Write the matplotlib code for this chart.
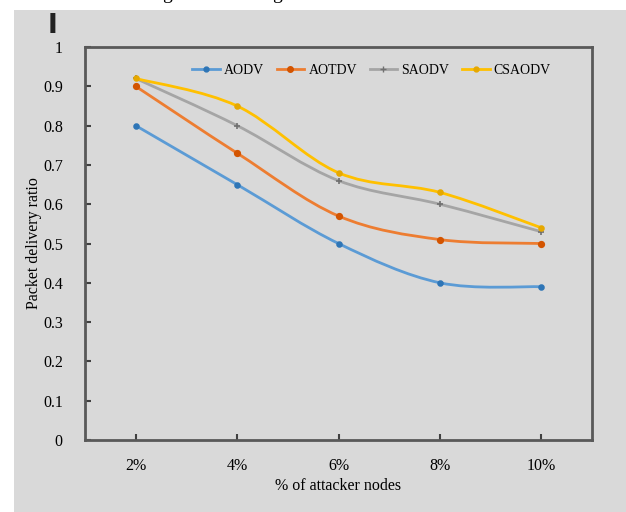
import matplotlib
matplotlib.use("Agg")
import matplotlib.pyplot as plt
from matplotlib.path import Path
from matplotlib.patches import PathPatch, Rectangle

plt.rcParams['font.family'] = ['Liberation Serif', 'DejaVu Serif']

# data
x_labels = ['2%', '4%', '6%', '8%', '10%']
aodv = [0.80, 0.65, 0.50, 0.40, 0.39]
aotdv = [0.90, 0.73, 0.57, 0.51, 0.50]
saodv = [0.92, 0.80, 0.66, 0.60, 0.53]
csaodv = [0.92, 0.85, 0.68, 0.63, 0.54]
y_ticks = [0, 0.1, 0.2, 0.3, 0.4, 0.5, 0.6, 0.7, 0.8, 0.9, 1]

bg = '#d9d9d9'


def smooth_path(xs, ys):
    # Excel-like smoothed line: Catmull-Rom turned into cubic Bezier segments
    pts = list(zip(xs, ys))
    verts = [pts[0]]
    codes = [Path.MOVETO]
    n = len(pts)
    for i in range(n - 1):
        p0 = pts[i - 1] if i > 0 else pts[i]
        p1 = pts[i]
        p2 = pts[i + 1]
        p3 = pts[i + 2] if i + 2 < n else pts[i + 1]
        c1 = (p1[0] + (p2[0] - p0[0]) / 6, p1[1] + (p2[1] - p0[1]) / 6)
        c2 = (p2[0] - (p3[0] - p1[0]) / 6, p2[1] - (p3[1] - p1[1]) / 6)
        verts += [c1, c2, p2]
        codes += [Path.CURVE4] * 3
    return Path(verts, codes)


fig = plt.figure(figsize=(6.26, 5.12), dpi=100)
fig.patches.append(Rectangle((14 / 626, 0), 1, 1 - 10 / 512, transform=fig.transFigure,
                             facecolor=bg, edgecolor='none', zorder=-10))
ax = fig.add_axes([85 / 626, 1 - 440 / 512, 507 / 626, 393 / 512])
ax.set_facecolor(bg)

xs = list(range(len(x_labels)))
series = [
    ('AODV', aodv, '#5b9bd5', '#2e75b6', 'o', 3.5),
    ('AOTDV', aotdv, '#ed7d31', '#d35400', 'o', 4),
    ('SAODV', saodv, '#a5a5a5', '#707070', '+', 4),
    ('CSAODV', csaodv, '#ffc000', '#e6a800', 'o', 3.5),
]
for name, vals, col, mcol, mk, ms in series:
    ax.add_patch(PathPatch(smooth_path(xs, vals), facecolor='none', edgecolor=col, lw=2))
    ax.plot(xs, vals, linestyle='none', marker=mk, markersize=ms, color=mcol, mew=1.2)
    ax.plot([], [], color=col, lw=2, marker=mk, markersize=ms, mfc=mcol, mec=mcol, label=name)

ax.set_xlim(-0.5, 4.5)
ax.set_ylim(0, 1)
ax.set_xticks(xs)
ax.set_xticklabels(x_labels, fontsize=11.5)
ax.set_yticks(y_ticks)
ax.set_yticklabels([f'{t:g}' for t in y_ticks], fontsize=11.5)
ax.tick_params(direction='in', length=4, width=1.5, color='#404040')
ax.tick_params(axis='y', pad=16)
ax.tick_params(axis='x', pad=13)
for s in ax.spines.values():
    s.set_color('#595959')
    s.set_linewidth(2)

ax.set_xlabel('% of attacker nodes', fontsize=11.5, labelpad=3)
ax.set_ylabel('Packet delivery ratio', fontsize=11.5, labelpad=1)

ax.legend(loc='center', bbox_to_anchor=(0.565, 0.94), ncol=4, frameon=False,
          fontsize=10, handlelength=2.0, handletextpad=0.3, columnspacing=0.9)

# cut-off caption above and the marker bar at top left
fig.text(167 / 626, 1 + 1 / 512, 'g', fontsize=14, va='baseline', ha='center')
fig.text(277 / 626, 1 + 1 / 512, 'g', fontsize=14, va='baseline', ha='center')
fig.text(53 / 626, 1 - 26 / 512, 'I', fontsize=19, fontweight='bold', va='center', ha='center',
         family='DejaVu Sans', color='#222222')

fig.savefig('out.png', dpi=100, facecolor='white')
